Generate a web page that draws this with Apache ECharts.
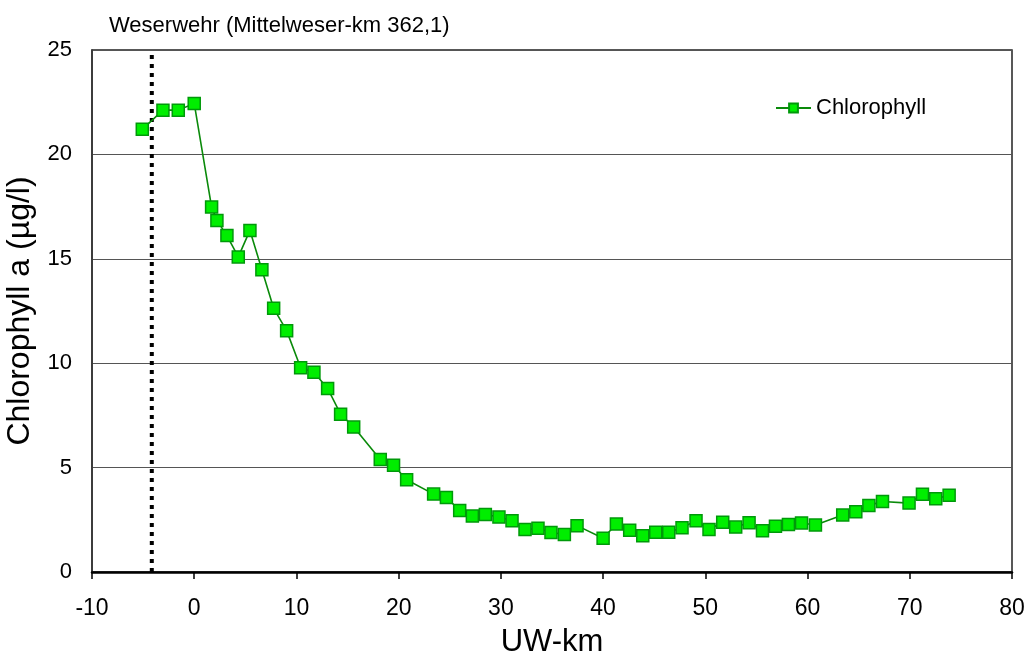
<!DOCTYPE html>
<html>
<head>
<meta charset="utf-8">
<title>Chlorophyll a – Weserwehr</title>
<script src="https://cdn.jsdelivr.net/npm/echarts@6/dist/echarts.min.js"></script>
<style>
  html, body { margin: 0; padding: 0; background: #fff; }
  #chart { width: 1028px; height: 663px; }
</style>
</head>
<body>
<div id="chart"></div>
<script>
// River kilometre below the weir (UW-km) and measured chlorophyll a (µg/l)
const uwKm = [-5.08, -3.06, -1.56, 0, 1.70, 2.22, 3.2, 4.31, 5.45, 6.62, 7.77, 9.04,
  10.41, 11.71, 13.05, 14.32, 15.6, 18.2, 19.5, 20.78,
  23.42, 24.67, 25.97, 27.21, 28.48, 29.81, 31.09, 32.36, 33.63, 34.9, 36.21, 37.45,
  40.0, 41.3, 42.6, 43.88, 45.15, 46.42, 47.72,
  49.09, 50.36, 51.7, 52.97, 54.28, 55.59, 56.86, 58.13, 59.41, 60.77,
  63.44, 64.72, 66.0, 67.33, 69.93, 71.24, 72.54, 73.85];
const chlorophyll = [21.2, 22.12, 22.12, 22.44, 17.48, 16.84, 16.11, 15.09, 16.36, 14.48, 12.63, 11.56,
  9.78, 9.57, 8.79, 7.56, 6.94, 5.39, 5.11, 4.42,
  3.73, 3.57, 2.95, 2.68, 2.75, 2.63, 2.46, 2.03, 2.09, 1.89, 1.80, 2.22,
  1.62, 2.30, 2.0, 1.74, 1.90, 1.90, 2.12,
  2.46, 2.04, 2.38, 2.15, 2.36, 1.98, 2.19, 2.27, 2.35, 2.25,
  2.73, 2.89, 3.19, 3.38, 3.30, 3.72, 3.51, 3.68];

// Position of the weir (Mittelweser-km 362,1) on the UW-km scale
const weirKm = -4.15;
const weirLabel = 'Weserwehr (Mittelweser-km 362,1)';

// Axis settings
const xTicks = { min: -10, max: 80, step: 10 };
const yTicks = { min: 0, max: 25, step: 5 };
const seriesName = 'Chlorophyll';

const FONT = '"Liberation Sans", Arial, sans-serif';

const chart = echarts.init(document.getElementById('chart'), null, { renderer: 'canvas' });

chart.setOption({
  animation: false,
  backgroundColor: '#ffffff',
  textStyle: { fontFamily: FONT, color: '#000' },
  title: {
    text: weirLabel,
    left: 104,
    top: 10,
    textStyle: { fontFamily: FONT, fontSize: 22, fontWeight: 'normal', color: '#000' }
  },
  legend: {
    data: [seriesName],
    left: 770,
    top: 92,
    itemWidth: 35,
    itemHeight: 11,
    itemGap: 4,
    textStyle: { fontFamily: FONT, fontSize: 22, color: '#000' }
  },
  grid: {
    left: 92,
    right: 16,
    top: 50,
    bottom: 91,
    show: true,
    borderColor: '#222',
    borderWidth: 1.5,
    containLabel: false,
    outerBoundsMode: 'none'
  },
  xAxis: {
    type: 'value',
    min: xTicks.min,
    max: xTicks.max,
    interval: xTicks.step,
    name: 'UW-km',
    nameLocation: 'middle',
    nameGap: 55,
    nameTextStyle: { fontFamily: FONT, fontSize: 31, color: '#000' },
    axisLine: { show: true, onZero: false, lineStyle: { color: '#000', width: 2.5 } },
    axisTick: { show: true, inside: false, length: 7, lineStyle: { color: '#000', width: 1.5 } },
    axisLabel: { fontFamily: FONT, fontSize: 23, color: '#000', margin: 25 },
    splitLine: { show: false }
  },
  yAxis: {
    type: 'value',
    min: yTicks.min,
    max: yTicks.max,
    interval: yTicks.step,
    name: 'Chlorophyll a (µg/l)',
    nameLocation: 'middle',
    nameGap: 46,
    nameTextStyle: { fontFamily: FONT, fontSize: 32, color: '#000' },
    axisLine: { show: true, onZero: false, lineStyle: { color: '#333', width: 1.5 } },
    axisTick: { show: false },
    axisLabel: { fontFamily: FONT, fontSize: 22, color: '#000', margin: 20 },
    splitLine: { show: true, lineStyle: { color: '#555', width: 1 } }
  },
  series: [
    {
      name: 'weir',
      type: 'line',
      data: [[weirKm, yTicks.min], [weirKm, yTicks.max]],
      symbol: 'none',
      silent: true,
      lineStyle: { color: '#000', width: 4, type: [4, 5] },
      z: 3
    },
    {
      name: seriesName,
      type: 'line',
      data: uwKm.map((km, i) => [km, chlorophyll[i]]),
      symbol: 'rect',
      symbolSize: 12,
      showAllSymbol: true,
      lineStyle: { color: '#0a8a0a', width: 1.6 },
      itemStyle: { color: '#00ee00', borderColor: '#00990a', borderWidth: 1.5 },
      z: 5
    }
  ]
});
</script>
</body>
</html>
